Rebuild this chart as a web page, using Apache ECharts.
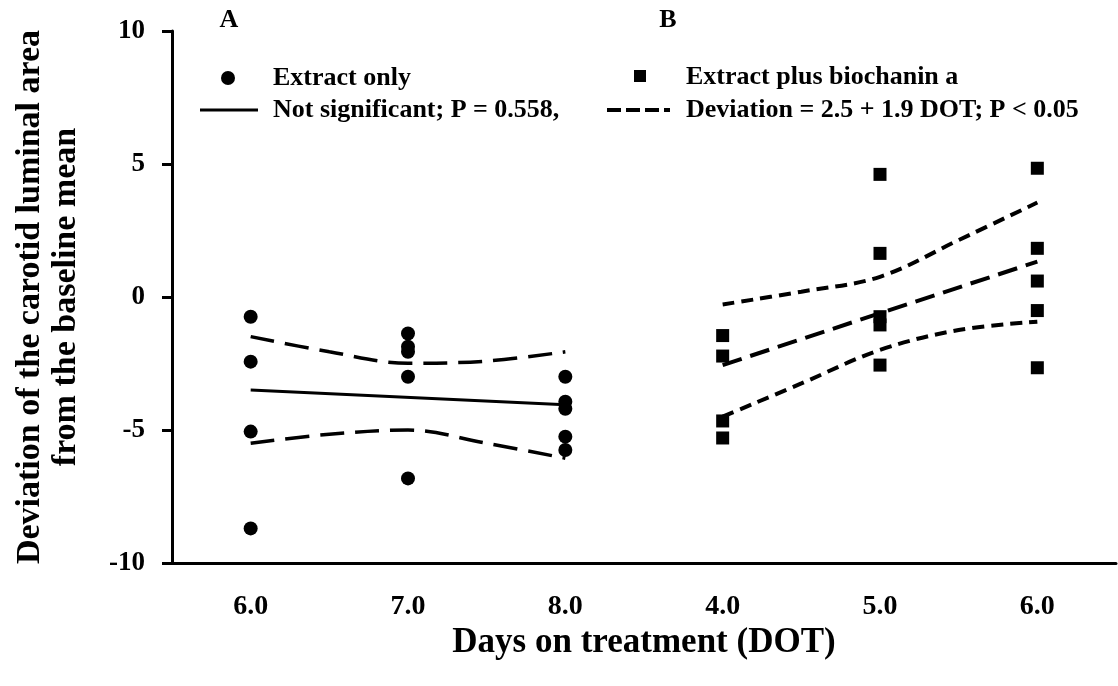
<!DOCTYPE html>
<html>
<head>
<meta charset="utf-8">
<script src="https://cdn.jsdelivr.net/npm/echarts@6/dist/echarts.min.js"></script>
<style>
html,body{margin:0;padding:0;background:#fff;}
#chart{width:1118px;height:686px;}
</style>
</head>
<body>
<div id="chart"></div>
<script>
// ---- data ----
var xLabels = ['6.0', '7.0', '8.0', '4.0', '5.0', '6.0'];
var yTicks = [-10, -5, 0, 5, 10];

// Extract only (panel A) – category indices 0..2
var extractOnlyIdx = [0, 1, 2];
var extractOnlyValues = [
  [-0.74, -2.43, -5.06, -8.70],
  [-1.37, -1.87, -2.06, -3.00, -6.82],
  [-3.00, -3.94, -4.20, -5.25, -5.75]
];
// Extract plus biochanin a (panel B) – category indices 3..5
var biochaninIdx = [3, 4, 5];
var biochaninValues = [
  [-1.45, -2.22, -4.66, -5.30],
  [4.61, 1.64, -0.74, -1.05, -2.56],
  [4.84, 1.83, 0.60, -0.51, -2.66]
];

// regression lines and confidence bands ([x position on category scale, value])
var regA = [[0, -3.50], [2, -4.05]];
var ciUpperA = [[0, -1.49], [0.5, -2.06], [1, -2.49], [1.5, -2.41], [2, -2.06]];
var ciLowerA = [[0, -5.50], [0.5, -5.16], [1, -5.00], [1.5, -5.50], [2, -6.06]];
var regB = [[3, -2.56], [4, -0.61], [5, 1.33]];
var ciUpperB = [[3, -0.28], [3.5, 0.20], [4, 0.76], [4.5, 2.14], [5, 3.55]];
var ciLowerB = [[3, -4.50], [3.5, -3.25], [4, -1.99], [4.5, -1.24], [5, -0.93]];

var panelLabels = ['A', 'B'];
var legendTexts = ['Extract only', 'Not significant; P = 0.558,', 'Extract plus biochanin a', 'Deviation = 2.5 + 1.9 DOT; P < 0.05'];
var xTitle = 'Days on treatment (DOT)';
var yTitle = 'Deviation of the carotid luminal area\nfrom the baseline mean';

// ---- build ----
function toPoints(idx, vals) {
  var out = [];
  idx.forEach(function (x, i) { vals[i].forEach(function (v) { out.push([x, v]); }); });
  return out;
}
var FONT = '"Liberation Serif", "Times New Roman", serif';
var chart = echarts.init(document.getElementById('chart'));

function lineSeries(data, type, width, smooth) {
  return {
    type: 'line', xAxisIndex: 1, data: data, symbol: 'none', smooth: smooth ? 0.35 : false,
    lineStyle: { color: '#000', width: width, type: type, cap: 'butt' }, z: 2, silent: true
  };
}

chart.setOption({
  animation: false,
  backgroundColor: '#fff',
  grid: { left: 172, right: 2, top: 31, bottom: 123, containLabel: false },
  xAxis: [{
    type: 'category', data: xLabels, boundaryGap: true, position: 'bottom',
    name: xTitle, nameLocation: 'middle', nameGap: 60,
    nameTextStyle: { fontFamily: FONT, fontWeight: 'bold', fontSize: 35, color: '#000' },
    axisLine: { onZero: false, lineStyle: { color: '#000', width: 3 } },
    axisTick: { alignWithLabel: true, length: 10, lineStyle: { color: '#000', width: 3 } },
    axisLabel: { margin: 30, fontFamily: FONT, fontWeight: 'bold', fontSize: 28, color: '#000' },
    splitLine: { show: false }
  }, {
    type: 'value', min: -0.5, max: 5.5, show: false
  }],
  yAxis: {
    type: 'value', min: yTicks[0], max: yTicks[yTicks.length - 1], interval: 5,
    name: yTitle, nameLocation: 'middle', nameGap: 88, nameRotate: 90,
    nameTextStyle: { fontFamily: FONT, fontWeight: 'bold', fontSize: 34, lineHeight: 36, color: '#000' },
    axisLine: { show: true, onZero: false, lineStyle: { color: '#000', width: 3 } },
    axisTick: { show: true, length: 10, lineStyle: { color: '#000', width: 3 } },
    axisLabel: { margin: 27, fontFamily: FONT, fontWeight: 'bold', fontSize: 27, color: '#000' },
    splitLine: { show: false }
  },
  series: [
    lineSeries(regA, 'solid', 3, false),
    lineSeries(ciUpperA, [24, 11], 3.5, true),
    lineSeries(ciLowerA, [24, 11], 3.5, true),
    lineSeries(regB, [20, 9], 4, false),
    lineSeries(ciUpperB, [12, 7], 4, true),
    lineSeries(ciLowerB, [12, 7], 4, true),
    {
      type: 'scatter', xAxisIndex: 1, data: toPoints(extractOnlyIdx, extractOnlyValues),
      symbol: 'circle', symbolSize: 14, itemStyle: { color: '#000', opacity: 1 }, z: 3
    },
    {
      type: 'scatter', xAxisIndex: 1, data: toPoints(biochaninIdx, biochaninValues),
      symbol: 'rect', symbolSize: 13, itemStyle: { color: '#000', opacity: 1 }, z: 3
    }
  ],
  graphic: [
    { type: 'text', x: 229, y: 20, style: { text: panelLabels[0], font: 'bold 26px ' + FONT, fill: '#000', align: 'center', verticalAlign: 'middle' } },
    { type: 'text', x: 668, y: 20, style: { text: panelLabels[1], font: 'bold 26px ' + FONT, fill: '#000', align: 'center', verticalAlign: 'middle' } },
    { type: 'circle', shape: { cx: 228, cy: 78, r: 7 }, style: { fill: '#000' } },
    { type: 'line', shape: { x1: 200, y1: 110, x2: 258, y2: 110 }, style: { stroke: '#000', lineWidth: 3 } },
    { type: 'text', x: 273, y: 78, style: { text: legendTexts[0], font: 'bold 26px ' + FONT, fill: '#000', align: 'left', verticalAlign: 'middle' } },
    { type: 'text', x: 273, y: 110, style: { text: legendTexts[1], font: 'bold 26px ' + FONT, fill: '#000', align: 'left', verticalAlign: 'middle' } },
    { type: 'rect', shape: { x: 634, y: 70, width: 12, height: 12 }, style: { fill: '#000' } },
    { type: 'line', shape: { x1: 607, y1: 110, x2: 670, y2: 110 }, style: { stroke: '#000', lineWidth: 4, lineDash: [14, 5] } },
    { type: 'text', x: 686, y: 77, style: { text: legendTexts[2], font: 'bold 26px ' + FONT, fill: '#000', align: 'left', verticalAlign: 'middle' } },
    { type: 'text', x: 686, y: 110, style: { text: legendTexts[3], font: 'bold 26px ' + FONT, fill: '#000', align: 'left', verticalAlign: 'middle' } }
  ]
});
</script>
</body>
</html>
